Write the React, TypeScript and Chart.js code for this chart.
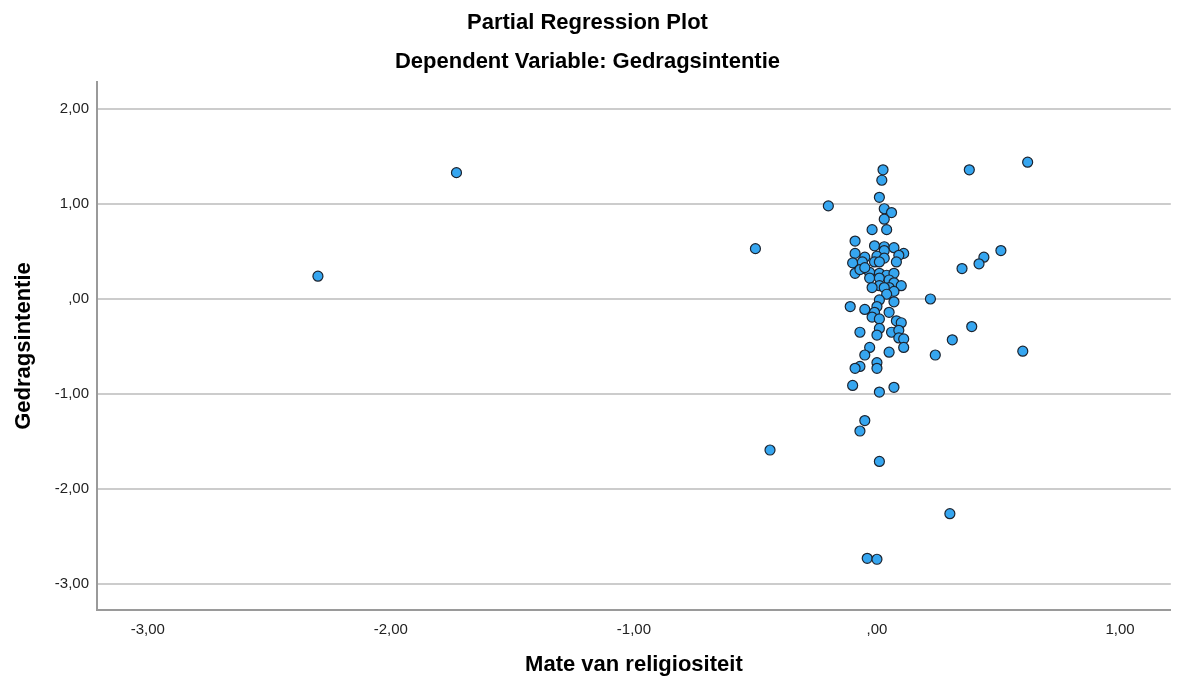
import { useEffect, useRef } from "react";
import { Chart, registerables } from "chart.js";

Chart.register(...registerables);

const chartTitle = "Partial Regression Plot";
const chartSubtitle = "Dependent Variable: Gedragsintentie";
const xAxisTitle = "Mate van religiositeit";
const yAxisTitle = "Gedragsintentie";

const xTickValues = [-3, -2, -1, 0, 1];
const yTickValues = [2, 1, 0, -1, -2, -3];

// Partial residuals: Mate van religiositeit (x)
const religiositeit = [
  -2.3, -1.73, -0.5, -0.44, -0.2,
  0.38, 0.62, 0.51, 0.44, 0.42, 0.35, 0.22, 0.39, 0.31, 0.24, 0.6, 0.3,
  0.01, -0.04, 0.0, -0.05, -0.07, -0.1, 0.01, 0.07,
  0.025, 0.02, 0.01, 0.03, 0.06, 0.03, -0.02, 0.04, -0.09, -0.01, 0.03, 0.07, 0.11, 0.09, -0.09, 0.03,
  0.0, -0.05, 0.03, -0.1, -0.06, -0.01, 0.01, 0.08, -0.09, -0.05, -0.03, 0.01, 0.04, 0.07, -0.03, 0.01,
  0.05, 0.07, 0.1, 0.05, 0.01, -0.02, 0.03, 0.07, 0.04, -0.07, -0.05,
  0.07, 0.01, -0.11, -0.05, 0.0, -0.01, 0.05, -0.02, 0.01, 0.08, 0.1, -0.07, 0.01, 0.0, 0.06, 0.09,
  0.09, 0.11, 0.11, -0.03, 0.05, -0.05, -0.07, -0.09, 0.0, 0.0,
];

// Partial residuals: Gedragsintentie (y)
const gedragsintentie = [
  0.24, 1.33, 0.53, -1.59, 0.98,
  1.36, 1.44, 0.51, 0.44, 0.37, 0.32, 0.0, -0.29, -0.43, -0.59, -0.55, -2.26,
  -1.71, -2.73, -2.74, -1.28, -1.39, -0.91, -0.98, -0.93,
  1.36, 1.25, 1.07, 0.95, 0.91, 0.84, 0.73, 0.73, 0.61, 0.56, 0.55, 0.54, 0.48, 0.46, 0.48, 0.51,
  0.45, 0.44, 0.43, 0.38, 0.39, 0.39, 0.39, 0.39, 0.27, 0.32, 0.28, 0.27, 0.25, 0.27, 0.22, 0.22,
  0.2, 0.17, 0.14, 0.12, 0.14, 0.12, 0.12, 0.08, 0.05, 0.31, 0.33,
  -0.03, -0.01, -0.08, -0.11, -0.08, -0.14, -0.14, -0.19, -0.21, -0.23, -0.25, -0.35, -0.31, -0.38, -0.35, -0.33,
  -0.41, -0.42, -0.51, -0.51, -0.56, -0.59, -0.71, -0.73, -0.67, -0.73,
];

const fontFamily = "'Liberation Sans', Arial, sans-serif";

const formatNumber = (v: number) => {
  const s = Math.abs(v).toFixed(2).replace(".", ",");
  const body = s.startsWith("0,") ? s.slice(1) : s;
  return (v < 0 ? "-" : "") + body;
};

export default function App() {
  const canvasRef = useRef<HTMLCanvasElement | null>(null);

  useEffect(() => {
    if (!canvasRef.current) return;
    const points = religiositeit.map((x, i) => ({ x, y: gedragsintentie[i] }));
    const chart = new Chart(canvasRef.current, {
      type: "scatter",
      data: {
        datasets: [
          {
            data: points,
            backgroundColor: "#36a6f0",
            borderColor: "#1c2430",
            borderWidth: 1.2,
            pointRadius: 5,
          },
        ],
      },
      options: {
        animation: false,
        responsive: true,
        maintainAspectRatio: false,
        layout: { padding: { left: 0, right: 2, top: 0, bottom: 0 } },
        plugins: {
          legend: { display: false },
          tooltip: { enabled: false },
          title: {
            display: true,
            text: chartTitle,
            color: "#000",
            font: { family: fontFamily, size: 22, weight: "bold" },
            padding: { top: 9.5, bottom: 0 },
          },
          subtitle: {
            display: true,
            text: chartSubtitle,
            color: "#000",
            font: { family: fontFamily, size: 22, weight: "bold" },
            padding: { top: 12.4, bottom: 7.3 },
          },
        },
        scales: {
          x: {
            type: "linear",
            min: -3.209,
            max: 1.209,
            afterFit: (s: any) => {
              s.height = 77;
            },
            afterBuildTicks: (s: any) => {
              s.ticks = xTickValues.map((v) => ({ value: v }));
            },
            grid: { display: false, drawTicks: false },
            border: { display: true, color: "#9a9a9a", width: 2 },
            ticks: {
              color: "#222",
              padding: 10.5,
              font: { family: fontFamily, size: 15 },
              callback: (v: any) => formatNumber(Number(v)),
            },
            title: {
              display: true,
              text: xAxisTitle,
              color: "#000",
              font: { family: fontFamily, size: 22, weight: "bold" },
              padding: { top: 0, bottom: 8.8 },
            },
          },
          y: {
            type: "linear",
            min: -3.274,
            max: 2.284,
            afterFit: (s: any) => {
              s.width = 97;
            },
            afterBuildTicks: (s: any) => {
              s.ticks = yTickValues.map((v) => ({ value: v }));
            },
            grid: { display: true, drawTicks: false, color: "#cccccc", lineWidth: 2 },
            border: { display: true, color: "#9a9a9a", width: 2 },
            ticks: {
              color: "#222",
              padding: 8,
              font: { family: fontFamily, size: 15 },
              callback: (v: any) => formatNumber(Number(v)),
            },
            title: {
              display: true,
              text: yAxisTitle,
              color: "#000",
              font: { family: fontFamily, size: 22, weight: "bold" },
              padding: { top: 10.5, bottom: 0 },
            },
          },
        },
      },
    });
    return () => chart.destroy();
  }, []);

  return (
    <div style={{ position: "absolute", left: 0, top: 0, width: 1177, height: 687 }}>
      <canvas ref={canvasRef} />
    </div>
  );
}
